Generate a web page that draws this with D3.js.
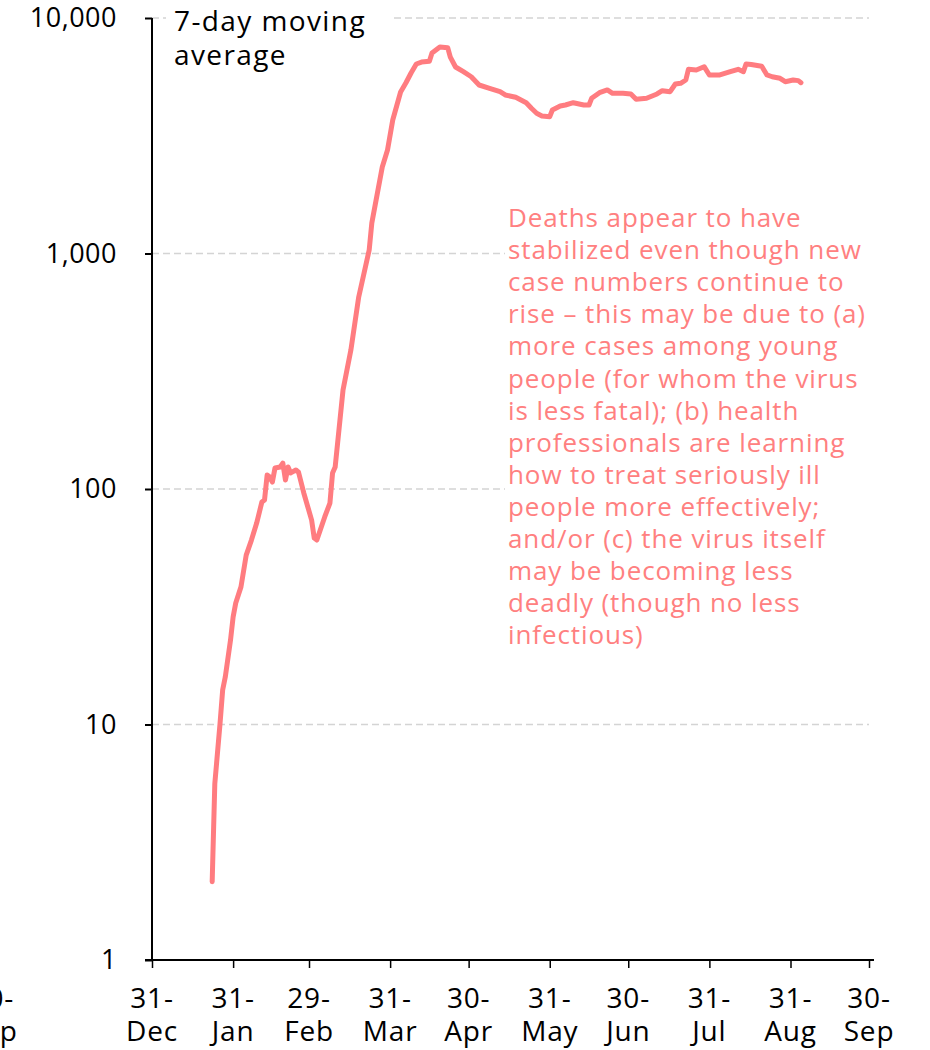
<!DOCTYPE html>
<html>
<head>
<meta charset="utf-8">
<style>
  body { margin: 0; background: #fff; }
  svg { display: block; font-family: "Open Sans", sans-serif; }
</style>
</head>
<body>
<svg width="930" height="1050"></svg>
<script src="https://d3js.org/d3.v7.min.js"></script>
<script>
  // 7-day moving average of daily deaths
  var dates = ["2020-01-23", "2020-01-24", "2020-01-26", "2020-01-27", "2020-01-28", "2020-01-30",
    "2020-01-31", "2020-02-01", "2020-02-03", "2020-02-05", "2020-02-07", "2020-02-09", "2020-02-11",
    "2020-02-12", "2020-02-13", "2020-02-14", "2020-02-15", "2020-02-16", "2020-02-18", "2020-02-19",
    "2020-02-20", "2020-02-21", "2020-02-22", "2020-02-24", "2020-02-25", "2020-02-27", "2020-03-01",
    "2020-03-02", "2020-03-03", "2020-03-06", "2020-03-08", "2020-03-09", "2020-03-10", "2020-03-13",
    "2020-03-16", "2020-03-19", "2020-03-23", "2020-03-24", "2020-03-28", "2020-03-30", "2020-04-01",
    "2020-04-04", "2020-04-06", "2020-04-08", "2020-04-10", "2020-04-12", "2020-04-15", "2020-04-16",
    "2020-04-19", "2020-04-22", "2020-04-23", "2020-04-25", "2020-04-28", "2020-05-01", "2020-05-04",
    "2020-05-08", "2020-05-12", "2020-05-14", "2020-05-18", "2020-05-22", "2020-05-24", "2020-05-26",
    "2020-05-28", "2020-05-31", "2020-06-01", "2020-06-04", "2020-06-06", "2020-06-09", "2020-06-13",
    "2020-06-15", "2020-06-16", "2020-06-19", "2020-06-22", "2020-06-24", "2020-06-28", "2020-07-01",
    "2020-07-03", "2020-07-07", "2020-07-11", "2020-07-13", "2020-07-16", "2020-07-18", "2020-07-20",
    "2020-07-22", "2020-07-23", "2020-07-26", "2020-07-29", "2020-07-31", "2020-08-04", "2020-08-08",
    "2020-08-11", "2020-08-13", "2020-08-14", "2020-08-16", "2020-08-20", "2020-08-22", "2020-08-24",
    "2020-08-27", "2020-08-29", "2020-09-01", "2020-09-03", "2020-09-04"];
  var deaths = [2.15, 5.6, 10.1, 14.0, 15.9, 22.8,
    28.6, 32.8, 38.4, 52.4, 60.7, 71.7, 88.1,
    89.8, 114.7, 112.4, 107, 122.8, 124, 128.9,
    109.2, 124, 117, 120.4, 117.8, 96.2, 73.8,
    61.9, 60.7, 76.1, 87.2, 117, 124, 263,
    389, 654, 1035, 1348, 2330, 2751, 3688,
    4852, 5297, 5841, 6378, 6500, 6550, 7103,
    7532, 7480, 6826, 6194, 5916, 5631, 5194,
    5029, 4865, 4711, 4607, 4369, 4137, 3939,
    3837, 3812, 4068, 4230, 4272, 4369, 4272,
    4272, 4561, 4818, 4947, 4788, 4788, 4757,
    4516, 4561, 4757, 4913, 4865, 5245, 5280,
    5454, 6057, 6016, 6212, 5728, 5728, 5916,
    6057, 5916, 6378, 6350, 6240, 5728, 5630,
    5546, 5364, 5454, 5420, 5312];

  var yTicks = [1, 10, 100, 1000, 10000];
  var xTickDates = ["2019-12-31", "2020-01-31", "2020-02-29", "2020-03-31", "2020-04-30",
    "2020-05-31", "2020-06-30", "2020-07-31", "2020-08-31", "2020-09-30"];
  var xTickLabels = [["31-", "Dec"], ["31-", "Jan"], ["29-", "Feb"], ["31-", "Mar"], ["30-", "Apr"],
    ["31-", "May"], ["30-", "Jun"], ["31-", "Jul"], ["31-", "Aug"], ["30-", "Sep"]];
  // stray label from a neighbouring panel, cut off at the left edge
  var strayTick = { date: "2019-10-31", label: ["30-", "Sep"] };

  var legendLines = ["7-day moving", "average"];
  var noteLines = [
    "Deaths appear to have",
    "stabilized even though new",
    "case numbers continue to",
    "rise \u2013 this may be due to (a)",
    "more cases among young",
    "people (for whom the virus",
    "is less fatal); (b) health",
    "professionals are learning",
    "how to treat seriously ill",
    "people more effectively;",
    "and/or (c) the virus itself",
    "may be becoming less",
    "deadly (though no less",
    "infectious)"
  ];

  var parse = d3.utcParse("%Y-%m-%d");
  var data = dates.map(function(d, i) { return { date: parse(d), value: deaths[i] }; });

  var svg = d3.select("svg");
  var plotLeft = 152, plotRight = 869, plotTop = 18, plotBottom = 960;

  var x = d3.scaleUtc()
    .domain([parse("2019-12-31"), parse("2020-09-30")])
    .range([plotLeft, plotRight]);
  var y = d3.scaleLog()
    .domain([1, 10000])
    .range([plotBottom, plotTop]);

  // gridlines
  svg.append("g")
    .selectAll("line")
    .data(yTicks.slice(1))
    .enter().append("line")
    .attr("x1", plotLeft)
    .attr("x2", plotRight)
    .attr("y1", function(d) { return y(d); })
    .attr("y2", function(d) { return y(d); })
    .attr("stroke", "#d4d4d4")
    .attr("stroke-width", 1.5)
    .attr("stroke-dasharray", "7,4");

  // y axis
  var yAxis = svg.append("g")
    .attr("transform", "translate(" + plotLeft + ",0)")
    .call(d3.axisLeft(y).tickValues(yTicks).tickFormat(d3.format(",")).tickSize(7).tickPadding(28));
  yAxis.select(".domain").attr("stroke", "#000").attr("stroke-width", 2)
    .attr("d", "M0," + plotTop + "V" + plotBottom);
  yAxis.selectAll(".tick line").attr("stroke", "#000").attr("stroke-width", 2);
  yAxis.selectAll(".tick text")
    .attr("font-family", "Open Sans, sans-serif")
    .attr("font-size", 27)
    .attr("letter-spacing", 0.5)
    .attr("fill", "#000");

  // x axis
  var xAxis = svg.append("g")
    .attr("transform", "translate(0," + plotBottom + ")")
    .call(d3.axisBottom(x).tickValues(xTickDates.map(parse)).tickFormat("").tickSize(8));
  xAxis.select(".domain").attr("stroke", "#000").attr("stroke-width", 2)
    .attr("d", "M" + (plotLeft - 7) + ",0H" + (plotRight + 5));
  xAxis.selectAll(".tick line").attr("stroke", "#000").attr("stroke-width", 1.5);

  var labelData = xTickDates.map(function(d, i) { return { date: parse(d), label: xTickLabels[i] }; });
  labelData.push({ date: parse(strayTick.date), label: strayTick.label });
  var xl = svg.append("g")
    .attr("font-size", 28)
    .attr("letter-spacing", 0.8)
    .attr("fill", "#000")
    .attr("text-anchor", "middle")
    .selectAll("text")
    .data(labelData)
    .enter().append("text")
    .attr("transform", function(d) { return "translate(" + x(d.date) + ",0)"; });
  xl.append("tspan").attr("x", 0).attr("y", 1008).text(function(d) { return d.label[0]; });
  xl.append("tspan").attr("x", 0).attr("y", 1041).text(function(d) { return d.label[1]; });

  // series label, on white so the gridline breaks behind it
  svg.append("rect")
    .attr("x", 166).attr("y", 4).attr("width", 226).attr("height", 70)
    .attr("fill", "#fff");
  svg.append("g")
    .attr("font-size", 28)
    .attr("letter-spacing", 1.4)
    .attr("fill", "#000")
    .selectAll("text")
    .data(legendLines)
    .enter().append("text")
    .attr("x", 174)
    .attr("y", function(d, i) { return 31 + i * 34; })
    .text(function(d) { return d; });

  // annotation box
  svg.append("rect")
    .attr("x", 505).attr("y", 198).attr("width", 368).attr("height", 455)
    .attr("fill", "#fff");
  svg.append("g")
    .attr("font-size", 26)
    .attr("letter-spacing", 0.9)
    .attr("fill", "#ff8080")
    .selectAll("text")
    .data(noteLines)
    .enter().append("text")
    .attr("x", 508)
    .attr("y", function(d, i) { return 227 + i * 32.1; })
    .text(function(d) { return d; });

  // the line
  svg.append("path")
    .datum(data)
    .attr("fill", "none")
    .attr("stroke", "#ff7c80")
    .attr("stroke-width", 5)
    .attr("stroke-linejoin", "round")
    .attr("stroke-linecap", "round")
    .attr("d", d3.line()
      .x(function(d) { return x(d.date); })
      .y(function(d) { return y(d.value); }));
</script>
</body>
</html>
